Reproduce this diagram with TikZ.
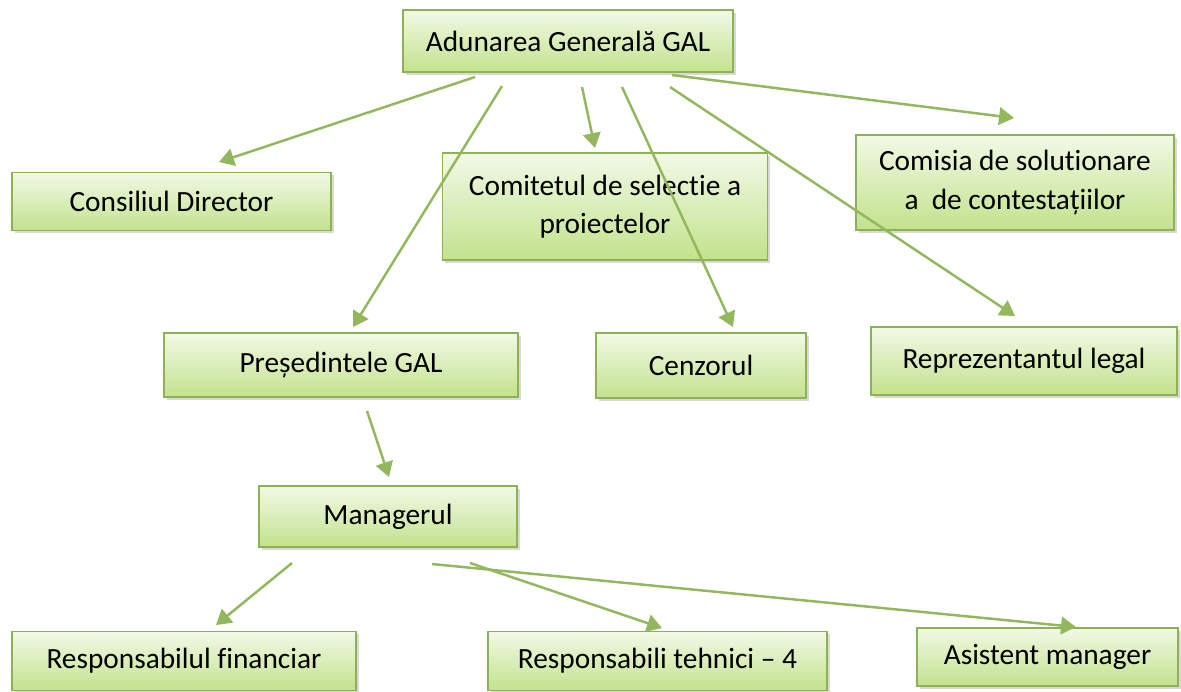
\documentclass[tikz,border=0pt]{standalone}
\usepackage{fontspec}
\setmainfont{Carlito}[Ligatures={TeX,NoCommon}]
\usetikzlibrary{arrows.meta,shadows}
\definecolor{galline}{HTML}{8DB255}
\definecolor{galarrow}{HTML}{93B75C}
\definecolor{galtop}{HTML}{F2F9E6}
\definecolor{galbottom}{HTML}{C2E28C}
\tikzset{
  org/.style={draw=galline,line width=0.8pt,top color=galtop,bottom color=galbottom,
    drop shadow={shadow xshift=1.5pt,shadow yshift=-1.5pt,opacity=0.3},
    align=center,inner sep=0pt,font=\fontsize{16.7}{22}\selectfont},
  conn/.style={galarrow,line width=1.4pt,-{Triangle[width=10pt,length=8.5pt]}}
}
\begin{document}
\begin{tikzpicture}[x=0.02cm,y=-0.02cm]
\useasboundingbox (0,0) rectangle (1181,691);
% boxes
\node[org,minimum width=6.6cm,minimum height=1.24cm] (gen) at (568,41) {Adunarea Generală GAL};
\node[org,minimum width=6.38cm,minimum height=1.16cm] (cons) at (171.5,201.5) {Consiliul Director};
\node[org,minimum width=6.5cm,minimum height=2.14cm] (comit) at (605,206.5) {Comitetul de selectie a\\proiectelor};
\node[org,minimum width=6.36cm,minimum height=1.9cm] (comis) at (1015,182.5) {Comisia de solutionare\\a\ \ de contestațiilor};
\node[org,minimum width=7.08cm,minimum height=1.28cm] (pres) at (341,365) {Președintele GAL};
\node[org,minimum width=4.2cm,minimum height=1.3cm] (cenz) at (701,365.5) {Cenzorul};
\node[org,minimum width=6.12cm,minimum height=1.36cm] (repr) at (1024,361) {Reprezentantul legal};
\node[org,minimum width=5.16cm,minimum height=1.22cm] (mgr) at (388,516.5) {Managerul};
\node[org,minimum width=6.88cm,minimum height=1.18cm] (rfin) at (184,661) {Responsabilul financiar};
\node[org,minimum width=6.78cm,minimum height=1.18cm] (rteh) at (657.5,661) {Responsabili tehnici -- 4};
\node[org,minimum width=5.22cm,minimum height=1.16cm] (asist) at (1047.5,657) {Asistent manager};
% arrow ends
\coordinate (g1) at (475,77);   \coordinate (cons-t) at (219,162);
\coordinate (g2) at (502,86);   \coordinate (pres-t) at (353,327);
\coordinate (g3) at (582,87);   \coordinate (comit-t) at (595,148);
\coordinate (g4) at (622,87);   \coordinate (cenz-t) at (733,327);
\coordinate (g5) at (670,87);   \coordinate (repr-t) at (1015,316);
\coordinate (g6) at (672,75);   \coordinate (comis-t) at (1014,118);
\coordinate (p1) at (367,411);  \coordinate (mgr-t) at (389,477);
\coordinate (m1) at (292,563);  \coordinate (rfin-t) at (216,625);
\coordinate (m2) at (470,563);  \coordinate (rteh-t) at (662,628);
\coordinate (m3) at (432,564);  \coordinate (asist-t) at (1076,627);
% arrows
\draw[conn] (g1)--(cons-t);
\draw[conn] (g2)--(pres-t);
\draw[conn] (g3)--(comit-t);
\draw[conn] (g4)--(cenz-t);
\draw[conn] (g5)--(repr-t);
\draw[conn] (g6)--(comis-t);
\draw[conn] (p1)--(mgr-t);
\draw[conn] (m1)--(rfin-t);
\draw[conn] (m2)--(rteh-t);
\draw[conn] (m3)--(asist-t);
\end{tikzpicture}
\end{document}
